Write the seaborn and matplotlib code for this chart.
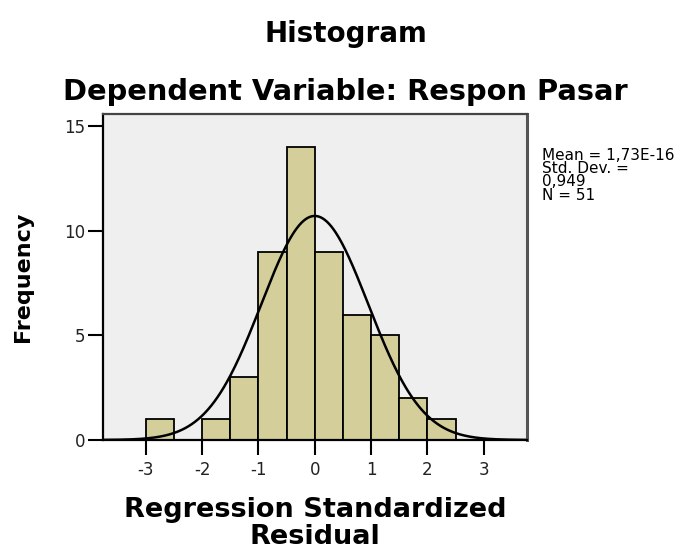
import numpy as np
import pandas as pd
import matplotlib
matplotlib.use("Agg")
import matplotlib.pyplot as plt
import seaborn as sns

# ---- data ----
bin_edges = [-3.0, -2.5, -2.0, -1.5, -1.0, -0.5, 0.0, 0.5, 1.0, 1.5, 2.0, 2.5]
counts = [1, 0, 1, 3, 9, 14, 9, 6, 5, 2, 1]
x_ticks = [-3, -2, -1, 0, 1, 2, 3]
y_ticks = [0, 5, 10, 15]
stat_mean = 1.73e-16
stat_sd = 0.949
stat_n = 51
stats_text = "Mean = 1,73E-16\nStd. Dev. =\n0,949\nN = 51"

title_text = "Histogram"
subtitle_text = "Dependent Variable: Respon Pasar"
xlabel_text = "Regression Standardized\nResidual"
ylabel_text = "Frequency"

sns.set_theme(style="white")
plt.rcParams["font.family"] = ["DejaVu Sans"]

fig = plt.figure(figsize=(6.91, 5.51), dpi=100)
fig.patch.set_facecolor("white")
ax = fig.add_axes([0.1491, 0.2015, 0.6136, 0.5917])
ax.set_facecolor("#efefef")

centers = [(bin_edges[i] + bin_edges[i + 1]) / 2 for i in range(len(counts))]
df = pd.DataFrame({"resid": centers, "count": counts})
sns.histplot(data=df, x="resid", weights="count", bins=bin_edges, ax=ax,
             color="#d4cf9a", alpha=1.0, edgecolor="black", linewidth=1.3)

# normal curve overlay
bw = bin_edges[1] - bin_edges[0]
xs = np.linspace(-3.8, 3.8, 400)
ys = stat_n * bw * np.exp(-0.5 * ((xs - stat_mean) / stat_sd) ** 2) / (stat_sd * np.sqrt(2 * np.pi))
sns.lineplot(x=xs, y=ys, ax=ax, color="black", linewidth=1.8)

ax.set_xlim(-3.76, 3.77)
ax.set_ylim(0, 15.6)
ax.set_xticks(x_ticks)
ax.set_xticklabels([str(t) for t in x_ticks])
ax.set_yticks(y_ticks)
ax.set_yticklabels([str(t) for t in y_ticks])
ax.tick_params(axis="both", direction="out", length=11, width=1.5, color="black",
               labelsize=12, labelcolor="#222222", bottom=True, left=True)
ax.tick_params(axis="x", pad=4)
ax.tick_params(axis="y", pad=2)

for side in ["left", "top", "right", "bottom"]:
    ax.spines[side].set_visible(True)
ax.spines["left"].set_color("black")
ax.spines["left"].set_linewidth(1.6)
ax.spines["bottom"].set_color("black")
ax.spines["bottom"].set_linewidth(1.6)
ax.spines["top"].set_color("#444444")
ax.spines["top"].set_linewidth(1.6)
ax.spines["right"].set_color("#555555")
ax.spines["right"].set_linewidth(2.2)

ax.set_xlabel(xlabel_text, fontsize=19.5, fontweight="bold", color="black",
              labelpad=13, linespacing=1.05)
ax.set_ylabel(ylabel_text, fontsize=16, fontweight="bold", color="black", labelpad=22)

fig.text(0.5, 1 - 42 / 551, title_text, ha="center", va="baseline",
         fontsize=20, fontweight="bold", color="black")
fig.text(0.5, 1 - 100 / 551, subtitle_text, ha="center", va="baseline",
         fontsize=20.8, fontweight="bold", color="black")

fig.text(542 / 691, 1 - 148 / 551, stats_text, ha="left", va="top",
         fontsize=11, color="black", linespacing=0.85)

fig.savefig("out.png", dpi=100, facecolor="white")
